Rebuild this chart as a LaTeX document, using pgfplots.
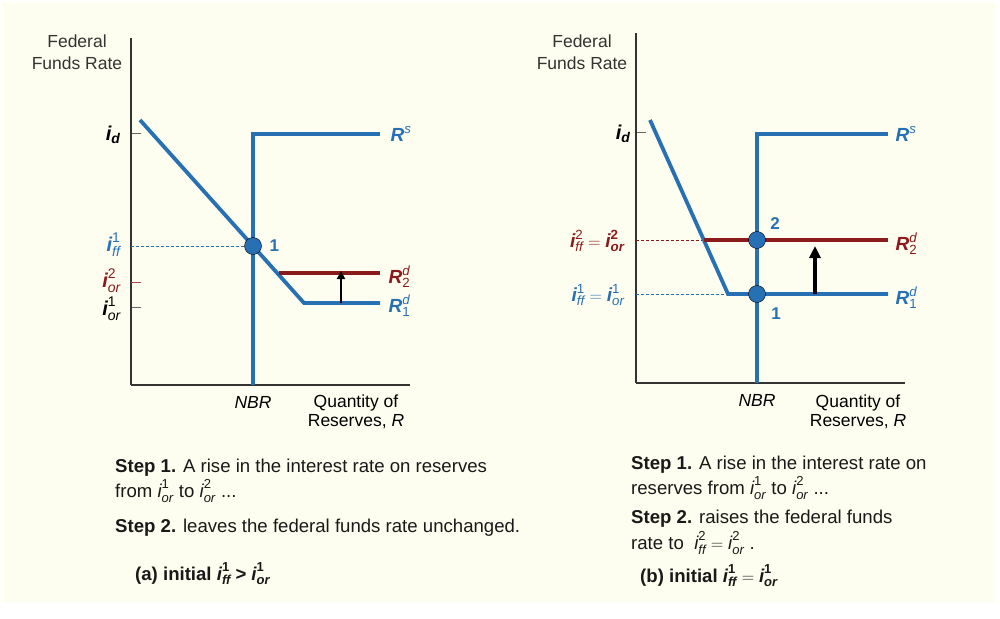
\documentclass[border=0pt]{standalone}
\usepackage{amsmath}
\usepackage{fontspec}
\setmainfont{Liberation Sans}
\usepackage{pgfplots}
\pgfplotsset{compat=1.18}
\usetikzlibrary{arrows.meta}
\definecolor{bg}{RGB}{254,254,240}
\definecolor{cblue}{RGB}{40,112,180}
\definecolor{cred}{RGB}{139,26,26}
\newcommand{\bi}[1]{\text{\normalfont\bfseries\itshape #1}}
\newcommand{\bu}[1]{\text{\normalfont\bfseries #1}}
\newcommand{\ti}[1]{\text{\normalfont\itshape #1}}
\newcommand{\tu}[1]{\text{\normalfont #1}}
\newcommand{\fs}[1]{\fontsize{#1}{#1}\selectfont}
\pgfplotsset{panel/.style={
  x=1pt, y=1pt, xmin=0, ymin=0, clip=false,
  axis lines*=left, axis line style={-, line width=1.2pt, draw=black!80},
  xtick=\empty, yticklabels={}, tick align=inside, major tick length=10pt,
  every tick/.style={line width=1pt, black!60},
  anchor=south west,
  curve/.style={line width=3.8pt},
  dot/.style={only marks, mark=*, mark size=8.5pt, mark options={fill=cblue, draw=none}},
  dash/.style={dashed, line width=0.8pt, dash pattern=on 3pt off 2pt},
}}
\begin{document}
\begin{tikzpicture}[x=1pt,y=1pt]
\fill[white] (0,0) rectangle (1000,-618);
\fill[bg] (2,-2) rectangle (995,-602);

% ---------- left panel ----------
\begin{axis}[panel, at={(131,-385)}, xmax=279, ymax=347,
  ytick={78,252}, extra y ticks={103}, extra y tick labels={},
  extra y tick style={major tick style={draw=cred!80}}]
\addplot[cblue, dash] coordinates {(0,139) (122,139)};
\addplot[cblue, curve] coordinates {(9,265) (122,139) (173,82) (249,82)};
\addplot[cred, curve] coordinates {(148,112) (249,112)};
\addplot[cblue, curve] coordinates {(122,0) (122,251) (249,251)};
\addplot[dot] coordinates {(122,139)};
\addplot[black, line width=2.4pt, -{Triangle[length=8pt,width=8pt]}] coordinates {(210,82) (210,114)};
\node[anchor=west, text=cblue, font=\fs{17}\bfseries] at (axis cs:135,139) {1};
\node[anchor=west, text=cblue, font=\fs{19}] at (axis cs:256,251) {$\bi{R}^{\ti{s}}$};
\node[anchor=west, text=cred, font=\fs{19}] at (axis cs:254,108) {$\bi{R}^{\ti{d}}_{\tu{2}}$};
\node[anchor=west, text=cblue, font=\fs{19}] at (axis cs:254,79) {$\bi{R}^{\ti{d}}_{\tu{1}}$};
\node[anchor=east, font=\fs{20}] at (axis cs:-7,250) {$\bi{i}_{\bi{d}}$};
\node[anchor=east, text=cblue, font=\fs{20}] at (axis cs:-7,140) {$\bi{i}^{\tu{1}}_{\ti{ff}}$};
\node[anchor=east, inner sep=0pt, text=cred, font=\fs{20}] at (axis cs:-10,104) {$\bi{i}^{\tu{2}}_{\ti{or}}$};
\node[anchor=east, inner sep=0pt, font=\fs{20}] at (axis cs:-10,76) {$\bi{i}^{\tu{1}}_{\ti{or}}$};
\node[font=\fs{17.5}\itshape] at (axis cs:122,-17) {NBR};
\node[font=\fs{17.5}, align=center] at (axis cs:225,-27) {Quantity of\\[2pt]Reserves, \textit{R}};
\end{axis}

% ---------- right panel ----------
\begin{axis}[panel, at={(636,-383)}, xmax=269, ymax=350, ytick={251}]
\addplot[cred, dash] coordinates {(0,143) (68,143)};
\addplot[cblue, dash] coordinates {(0,89) (92,89)};
\addplot[cblue, curve] coordinates {(14,263) (92,89) (252,89)};
\addplot[cred, curve] coordinates {(68,143) (252,143)};
\addplot[cblue, curve] coordinates {(121,0) (121,249) (252,249)};
\addplot[dot] coordinates {(121,143) (121,89)};
\addplot[black, line width=4pt, -{Triangle[length=12pt,width=11pt]}] coordinates {(179,89) (179,137)};
\node[text=cblue, font=\fs{17}\bfseries] at (axis cs:139,159) {2};
\node[text=cblue, font=\fs{17}\bfseries] at (axis cs:140,69) {1};
\node[anchor=west, text=cblue, font=\fs{19}] at (axis cs:256,249) {$\bi{R}^{\ti{s}}$};
\node[anchor=west, text=cred, font=\fs{19}] at (axis cs:256,139) {$\bi{R}^{\ti{d}}_{\tu{2}}$};
\node[anchor=west, text=cblue, font=\fs{19}] at (axis cs:256,85) {$\bi{R}^{\ti{d}}_{\tu{1}}$};
\node[anchor=east, font=\fs{20}] at (axis cs:-2,249) {$\bi{i}_{\bi{d}}$};
\node[anchor=east, text=cred, font=\fs{19}] at (axis cs:-8,142) {$\bi{i}^{\tu{2}}_{\ti{ff}}=\bi{i}^{\bu{2}}_{\bi{or}}$};
\node[anchor=east, text=cblue, font=\fs{19}] at (axis cs:-8,88) {$\bi{i}^{\tu{1}}_{\ti{ff}}=\bi{i}^{\tu{1}}_{\ti{or}}$};
\node[font=\fs{17.5}\itshape] at (axis cs:121,-17) {NBR};
\node[font=\fs{17.5}, align=center] at (axis cs:222,-29) {Quantity of\\[2pt]Reserves, \textit{R}};
\end{axis}

% ---------- titles and captions ----------
\node[font=\fs{17.5}, align=center, text=black!80] at (77,-52) {Federal\\[4pt]Funds Rate};
\node[font=\fs{17.5}, align=center, text=black!80] at (582,-52) {Federal\\[4pt]Funds Rate};

\begin{scope}[every node/.style={anchor=west, font=\fs{18.6}, inner sep=0pt, text=black!90}]
\node at (115,-468) {\textbf{Step 1.} A rise in the interest rate on reserves};
\node at (115,-491) {from $\ti{i}^{\tu{1}}_{\ti{or}}$ to $\ti{i}^{\tu{2}}_{\ti{or}}$ ...};
\node at (115,-528) {\textbf{Step 2.} leaves the federal funds rate unchanged.};
\node at (135,-574) {\textbf{(a) initial} $\bi{i}^{\bu{1}}_{\bi{ff}}\mathrel{\bu{>}}\bi{i}^{\bu{1}}_{\bi{or}}$};
\node at (631,-465) {\textbf{Step 1.} A rise in the interest rate on};
\node at (631,-488) {reserves from $\ti{i}^{\tu{1}}_{\ti{or}}$ to $\ti{i}^{\tu{2}}_{\ti{or}}$ ...};
\node at (631,-519) {\textbf{Step 2.} raises the federal funds};
\node at (631,-543) {rate to \ $\ti{i}^{\tu{2}}_{\ti{ff}}=\ti{i}^{\tu{2}}_{\ti{or}}$ .};
\node at (640,-576) {\textbf{(b) initial} $\bi{i}^{\bu{1}}_{\bi{ff}}=\bi{i}^{\bu{1}}_{\bi{or}}$};
\end{scope}
\end{tikzpicture}
\end{document}
